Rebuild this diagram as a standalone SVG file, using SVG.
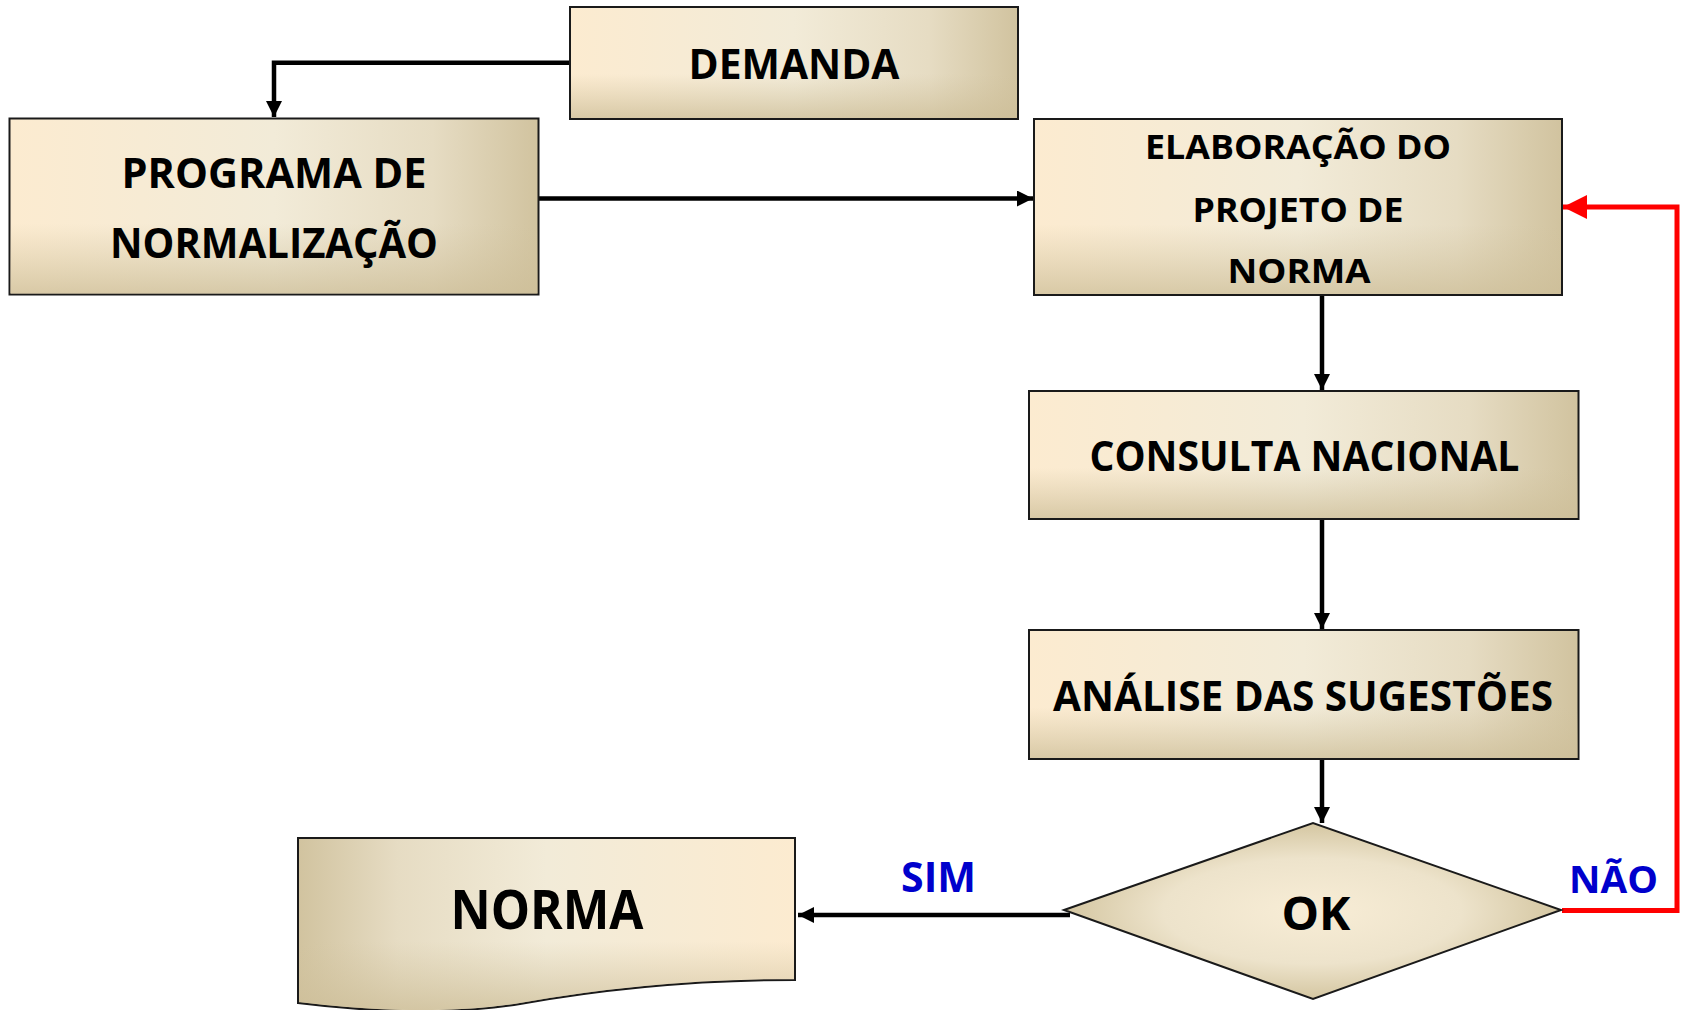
<svg xmlns="http://www.w3.org/2000/svg" width="1681" height="1010" viewBox="0 0 1681 1010">
<style>
.lbl{font-family:"Open Sans","DejaVu Sans",sans-serif;font-weight:bold;fill:#000;text-anchor:middle}
.blue{font-family:"Open Sans","DejaVu Sans",sans-serif;font-weight:bold;fill:#0000CC}
.box{stroke:#1a1a1a;stroke-width:2}
.conn{fill:none;stroke:#000;stroke-width:4.5}
.red{fill:none;stroke:#FF0000;stroke-width:5}
</style>
<defs>
<linearGradient id="gh" x1="0" y1="0" x2="1" y2="0">
<stop offset="0" stop-color="#FCEBD0"/>
<stop offset="0.5" stop-color="#F2EBD8"/>
<stop offset="0.8" stop-color="#E6DCC3"/>
<stop offset="1" stop-color="#D1C39F"/>
</linearGradient>
<linearGradient id="ghr" x1="1" y1="0" x2="0" y2="0">
<stop offset="0" stop-color="#FCEBD0"/>
<stop offset="0.5" stop-color="#F2EBD8"/>
<stop offset="0.8" stop-color="#E6DCC3"/>
<stop offset="1" stop-color="#D1C39F"/>
</linearGradient>
<linearGradient id="gv" x1="0" y1="0" x2="0" y2="1">
<stop offset="0" stop-color="#D1C39F" stop-opacity="0"/>
<stop offset="0.6" stop-color="#D1C39F" stop-opacity="0"/>
<stop offset="1" stop-color="#CDBE98" stop-opacity="0.75"/>
</linearGradient>
<radialGradient id="gd" cx="0.5" cy="0.5" r="0.5">
<stop offset="0" stop-color="#F8EDD6"/>
<stop offset="0.6" stop-color="#EDE3CB"/>
<stop offset="1" stop-color="#D4C6A1"/>
</radialGradient>
<marker id="ah" viewBox="0 0 16 16" markerWidth="16" markerHeight="16" refX="16" refY="8" orient="auto" markerUnits="userSpaceOnUse">
<path d="M0,0 L16,8 L0,16 z" fill="#000"/>
</marker>
<marker id="ahr" viewBox="0 0 24 24" markerWidth="24" markerHeight="24" refX="24" refY="12" orient="auto" markerUnits="userSpaceOnUse">
<path d="M0,0 L24,12 L0,24 z" fill="#FF0000"/>
</marker>
</defs>

<g id="connectors">
<path class="conn" d="M570,62.7 H274 V117" marker-end="url(#ah)"/>
<path class="conn" d="M539,198.5 H1033" marker-end="url(#ah)"/>
<path class="conn" d="M1322,295 V390" marker-end="url(#ah)"/>
<path class="conn" d="M1322,519 V629" marker-end="url(#ah)"/>
<path class="conn" d="M1322,759 V823" marker-end="url(#ah)"/>
<path class="conn" d="M1070,915 H798" marker-end="url(#ah)"/>
<path class="red" d="M1562,910.5 H1677 V207 H1563" marker-end="url(#ahr)"/>
</g>

<g id="demanda">
<rect class="box" x="570" y="7" width="448" height="112" fill="url(#gh)"/>
<rect x="571" y="8" width="446" height="110" fill="url(#gv)"/>
<text class="lbl" x="794" y="79" font-size="41" textLength="211" lengthAdjust="spacingAndGlyphs">DEMANDA</text>
</g>

<g id="programa">
<rect class="box" x="9.5" y="118.5" width="529" height="176" fill="url(#gh)"/>
<rect x="10.5" y="119.5" width="527" height="174" fill="url(#gv)"/>
<text class="lbl" x="274" y="188" font-size="41" textLength="305" lengthAdjust="spacingAndGlyphs">PROGRAMA DE</text>
<text class="lbl" x="274" y="258" font-size="41" textLength="328" lengthAdjust="spacingAndGlyphs">NORMALIZAÇÃO</text>
</g>

<g id="elaboracao">
<rect class="box" x="1034" y="119" width="528" height="176" fill="url(#gh)"/>
<rect x="1035" y="120" width="526" height="174" fill="url(#gv)"/>
<text class="lbl" x="1298" y="159" font-size="34" textLength="306" lengthAdjust="spacingAndGlyphs">ELABORAÇÃO DO</text>
<text class="lbl" x="1298" y="222" font-size="34" textLength="211" lengthAdjust="spacingAndGlyphs">PROJETO DE</text>
<text class="lbl" x="1299" y="283" font-size="34" textLength="143" lengthAdjust="spacingAndGlyphs">NORMA</text>
</g>

<g id="consulta">
<rect class="box" x="1029" y="391" width="549.5" height="128" fill="url(#gh)"/>
<rect x="1030" y="392" width="547.5" height="126" fill="url(#gv)"/>
<text class="lbl" x="1304.5" y="471" font-size="41" textLength="430" lengthAdjust="spacingAndGlyphs">CONSULTA NACIONAL</text>
</g>

<g id="analise">
<rect class="box" x="1029" y="630" width="549.5" height="129" fill="url(#gh)"/>
<rect x="1030" y="631" width="547.5" height="127" fill="url(#gv)"/>
<text class="lbl" x="1303" y="711" font-size="41" textLength="500" lengthAdjust="spacingAndGlyphs">ANÁLISE DAS SUGESTÕES</text>
</g>

<g id="ok">
<path d="M1064,910 L1313,823 L1561,910 L1313,999 Z" fill="url(#gd)" stroke="#1a1a1a" stroke-width="2"/>
<text class="lbl" x="1316" y="930" font-size="46" textLength="69" lengthAdjust="spacingAndGlyphs">OK</text>
</g>

<g id="norma">
<path d="M298,838 H795 V980 C700,980 610,988 520,1004 C450,1015 370,1012 298,1003 Z" fill="url(#ghr)" stroke="#1a1a1a" stroke-width="2"/>
<path d="M299,839 H794 V979 C700,979 610,987 520,1003 C450,1014 370,1011 299,1002 Z" fill="url(#gv)"/>
<text class="lbl" x="547" y="929" font-size="53" textLength="193" lengthAdjust="spacingAndGlyphs">NORMA</text>
</g>

<g id="labels">
<text class="blue" x="901" y="892" font-size="41" textLength="75" lengthAdjust="spacingAndGlyphs">SIM</text>
<text class="blue" x="1569" y="893" font-size="38" textLength="89" lengthAdjust="spacingAndGlyphs">NÃO</text>
</g>
</svg>
